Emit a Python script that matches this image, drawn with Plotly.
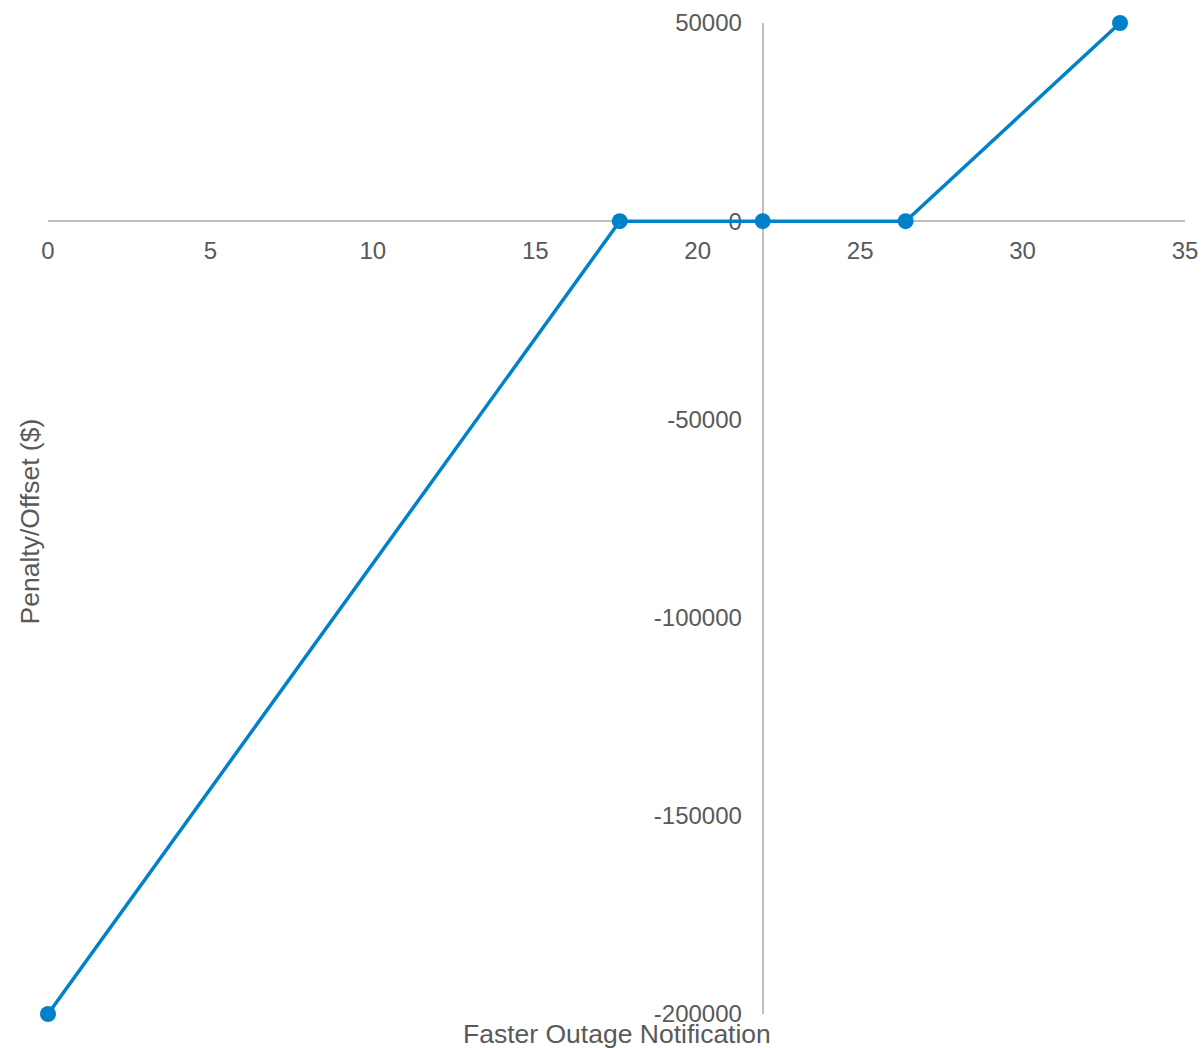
import plotly.graph_objects as go

# Break-even profile of penalty vs. faster outage notification
notification = [0, 17.6, 22, 26.4, 33]
penalty = [-200000, 0, 0, 0, 50000]

x_ticks = [0, 5, 10, 15, 20, 25, 30, 35]
y_ticks = [-200000, -150000, -100000, -50000, 0, 50000]
y_tick_labels = [str(v) for v in y_ticks]

x_range = [0, 35]
y_range = [-200000, 50000]
y_axis_at = 22  # x value where the vertical axis crosses

FONT = "Liberation Sans, Arial, sans-serif"
TEXT = "#595959"
AXIS = "#BFBFBF"
LINE = "#0082CA"

fig = go.Figure(
    go.Scatter(
        x=notification,
        y=penalty,
        mode="lines+markers",
        line=dict(color=LINE, width=3.5),
        marker=dict(color=LINE, size=16),
        cliponaxis=False,
        showlegend=False,
    )
)

x_pos = (0 - y_range[0]) / (y_range[1] - y_range[0])
y_pos = (y_axis_at - x_range[0]) / (x_range[1] - x_range[0])

fig.update_layout(
    width=1201,
    height=1048,
    margin=dict(l=48, r=16, t=23, b=34, autoexpand=False),
    paper_bgcolor="white",
    plot_bgcolor="white",
    font=dict(family=FONT, color=TEXT, size=24),
    xaxis=dict(
        range=x_range,
        tickvals=x_ticks,
        showgrid=False,
        zeroline=False,
        showline=True,
        linecolor=AXIS,
        linewidth=2,
        anchor="free",
        position=x_pos,
        ticks="",
        ticklabelstandoff=8,
        automargin=False,
        layer="below traces",
    ),
    yaxis=dict(
        range=y_range,
        tickvals=y_ticks,
        ticktext=y_tick_labels,
        showgrid=False,
        zeroline=False,
        showline=True,
        linecolor=AXIS,
        linewidth=2,
        anchor="free",
        position=y_pos,
        ticks="",
        ticklabelstandoff=15,
        automargin=False,
        layer="below traces",
    ),
    annotations=[
        dict(
            text="Faster Outage Notification",
            xref="paper", yref="paper",
            x=0.5, y=-20 / 991,
            xanchor="center", yanchor="middle",
            showarrow=False,
            font=dict(size=26.5, color=TEXT, family=FONT),
        ),
        dict(
            text="Penalty/Offset ($)",
            xref="paper", yref="paper",
            x=-18 / 1137, y=0.497,
            xanchor="center", yanchor="middle",
            textangle=-90,
            showarrow=False,
            font=dict(size=26.5, color=TEXT, family=FONT),
        ),
    ],
)

fig.write_html("out.html")
